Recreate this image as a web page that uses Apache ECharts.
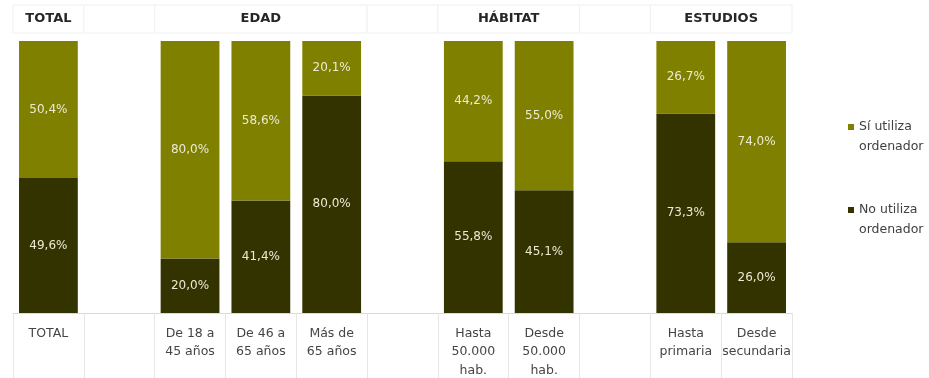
<!DOCTYPE html>
<html>
<head>
<meta charset="utf-8">
<script src="https://cdn.jsdelivr.net/npm/echarts@6/dist/echarts.min.js"></script>
<style>
  html, body { margin: 0; padding: 0; background: #ffffff; }
  #chart { width: 929px; height: 378px; }
</style>
</head>
<body>
<div id="chart"></div>
<script>
// Categories along the x axis; empty strings are spacer slots between groups
const categories = [
  'TOTAL', '',
  'De 18 a\n45 años', 'De 46 a\n65 años', 'Más de\n65 años', '',
  'Hasta\n50.000\nhab.', 'Desde\n50.000\nhab.', '',
  'Hasta\nprimaria', 'Desde\nsecundaria'
];

// Share of respondents (%) per category
const noUtiliza = [49.6, '-', 20.0, 41.4, 80.0, '-', 55.8, 45.1, '-', 73.3, 26.0];
const siUtiliza = [50.4, '-', 80.0, 58.6, 20.1, '-', 44.2, 55.0, '-', 26.7, 74.0];

const seriesNames = ['No utiliza\nordenador', 'Sí utiliza\nordenador'];

// Group headers above the bars and the category slots each one spans
const headerLabels = ['TOTAL', '', 'EDAD', '', 'HÁBITAT', '', 'ESTUDIOS'];
const headerSpans = [[0, 0], [1, 1], [2, 4], [5, 5], [6, 7], [8, 8], [9, 10]];

const FONT = '"DejaVu Sans"';
const chart = echarts.init(document.getElementById('chart'));

const pct = p => p.value.toFixed(1).replace('.', ',') + '%';

// Legend marker: a small square sitting level with the first text line
const legendIcon = 'path://M0,0h6v6h-6zM0,25.99h0.01v0.01h-0.01z';

chart.setOption({
  animation: false,
  textStyle: { fontFamily: FONT },
  grid: { left: 13, right: 137, top: 41, bottom: 65, outerBoundsMode: 'none', containLabel: false },
  legend: {
    orient: 'vertical',
    left: 843,
    top: 112,
    data: [seriesNames[1], seriesNames[0]],
    itemWidth: 6,
    itemHeight: 26,
    itemGap: 43,
    icon: legendIcon,
    selectedMode: false,
    textStyle: {
      color: '#404040',
      fontFamily: FONT,
      fontSize: 12.5,
      lineHeight: 20
    }
  },
  xAxis: {
    type: 'category',
    data: categories,
    axisLine: { lineStyle: { color: '#d9d9d9', width: 1 } },
    axisTick: { show: true, length: 66, lineStyle: { color: '#e6e6e6' } },
    axisLabel: {
      interval: 0,
      color: '#454545',
      fontFamily: FONT,
      fontSize: 12.5,
      lineHeight: 18.5,
      margin: 11
    }
  },
  yAxis: {
    type: 'value',
    min: 0,
    max: 100,
    show: false,
    splitLine: { show: false }
  },
  series: [
    {
      name: seriesNames[0],
      type: 'bar',
      stack: 'total',
      data: noUtiliza,
      barWidth: '83%',
      itemStyle: { color: '#333300' },
      label: { show: true, position: 'inside', color: '#ebead4', fontFamily: FONT, fontSize: 12, formatter: pct }
    },
    {
      name: seriesNames[1],
      type: 'bar',
      stack: 'total',
      data: siUtiliza,
      barWidth: '83%',
      itemStyle: { color: '#808000' },
      label: { show: true, position: 'inside', color: '#ebead4', fontFamily: FONT, fontSize: 12, formatter: pct }
    }
  ]
});

// Header cells laid out from the category axis positions
function drawHeaders() {
  const c0 = chart.convertToPixel({ xAxisIndex: 0 }, 0);
  const c1 = chart.convertToPixel({ xAxisIndex: 0 }, 1);
  const slot = c1 - c0;
  const elements = [];
  headerSpans.forEach((span, i) => {
    const x0 = chart.convertToPixel({ xAxisIndex: 0 }, span[0]) - slot / 2;
    const x1 = chart.convertToPixel({ xAxisIndex: 0 }, span[1]) + slot / 2;
    elements.push({
      type: 'rect',
      shape: { x: x0, y: 5, width: x1 - x0, height: 28 },
      style: { fill: '#ffffff', stroke: '#f0f0f0', lineWidth: 1 },
      silent: true
    });
    if (headerLabels[i]) {
      elements.push({
        type: 'text',
        x: (x0 + x1) / 2,
        y: 19,
        style: {
          text: headerLabels[i],
          fill: '#262626',
          font: 'bold 13px ' + FONT,
          align: 'center',
          verticalAlign: 'middle'
        },
        silent: true
      });
    }
  });
  chart.setOption({ graphic: elements });
}
drawHeaders();
</script>
</body>
</html>
